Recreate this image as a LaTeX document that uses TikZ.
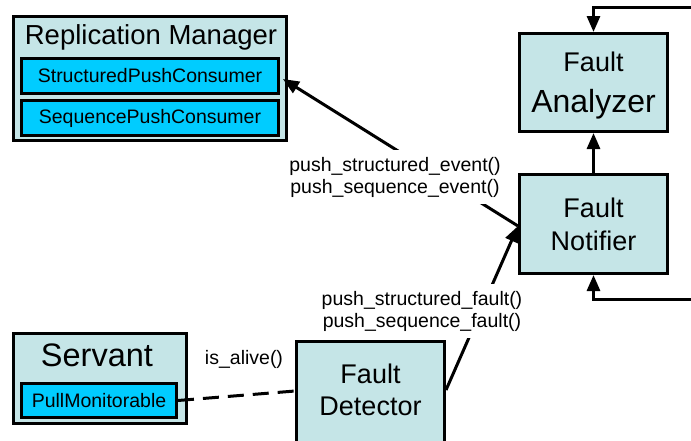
\documentclass[tikz,border=0pt]{standalone}
\usepackage{fontspec}
\setmainfont{Liberation Sans}
\usetikzlibrary{arrows.meta}
\definecolor{boxfill}{RGB}{197,229,231}
\definecolor{ifcfill}{RGB}{0,204,255}
\tikzset{
  unitbox/.style={draw, line width=3pt, fill=boxfill, inner sep=0pt, align=center},
  iface/.style={draw, line width=3pt, fill=ifcfill, inner sep=0pt,
    minimum height=35pt, font=\fontsize{19.5}{23}\selectfont},
  link/.style={line width=3pt, -{Triangle[length=16pt,width=13pt]}},
  call/.style={font=\fontsize{19.5}{22}\selectfont, align=center, inner xsep=3pt},
  title/.style={inner sep=0pt},
}
\begin{document}
\begin{tikzpicture}[x=1pt,y=-1pt]
\useasboundingbox (0,0) rectangle (691,440);
\clip (0,0) rectangle (691,440);
\fill[white] (0,0) rectangle (691,440);

% Replication Manager with its two consumer interfaces
\node[unitbox, minimum width=273pt, minimum height=124pt] (rm) at (150,78.5) {};
\node[title, font=\fontsize{27.5}{32}\selectfont] (rmt) at (151,37.5) {Replication Manager};
\node[iface, minimum width=257pt] (spc) at (150,76) {StructuredPushConsumer};
\node[iface, minimum width=257pt] (sqc) at (150,118) {SequencePushConsumer};

% Servant with its monitorable interface
\node[unitbox, minimum width=173pt, minimum height=90pt] (sv) at (100,378.5) {};
\node[title, font=\fontsize{32.5}{38}\selectfont] (svt) at (97,355.5) {Servant};
\node[iface, minimum width=155pt, minimum height=34pt] (pm) at (99,400.5) {PullMonitorable};

% Fault tolerance components
\node[unitbox, minimum width=148pt, minimum height=98pt, text height=59pt, text depth=0pt,
  font=\fontsize{32}{41}\selectfont] (fa) at (593.5,82.5)
  {\fontsize{27}{41}\selectfont Fault\\\fontsize{32}{41}\selectfont Analyzer};
\node[unitbox, minimum width=148pt, minimum height=99pt, font=\fontsize{27}{33}\selectfont] (fn) at (593.5,224)
  {Fault\\Notifier};
\node[unitbox, minimum width=148pt, minimum height=107pt, text depth=10pt,
  font=\fontsize{27}{32}\selectfont] (fd) at (370.5,395)
  {Fault\\Detector};

% Feedback loops entering from the right
\coordinate (fbtop) at (700,7);
\coordinate (fbbot) at (700,299);
\draw[link] (fbtop) -| (fa.north);
\draw[link] (fbbot) -| (fn.south);
\draw[link] (fn.north) -- (fa.south);

% Event and fault pushes
\draw[link] ([yshift=-2pt]fn.west) -- ([xshift=3pt,yshift=-3pt]spc.east);
\node[call, fill=white, inner ysep=7pt] (evl) at (395,177)
  {push\_structured\_event()\\push\_sequence\_event()};
\draw[link] ([yshift=5pt]fd.east) -- ([yshift=-2pt]fn.west);
\node[call, fill=white, inner ysep=7pt] (ftl) at (422,311)
  {push\_structured\_fault()\\push\_sequence\_fault()};

% Liveness polling
\draw[line width=3pt, dash pattern=on 16pt off 9pt] (pm.east) -- ([yshift=4pt]fd.west);
\node[call] (ial) at (244,359) {is\_alive()};
\end{tikzpicture}
\end{document}
